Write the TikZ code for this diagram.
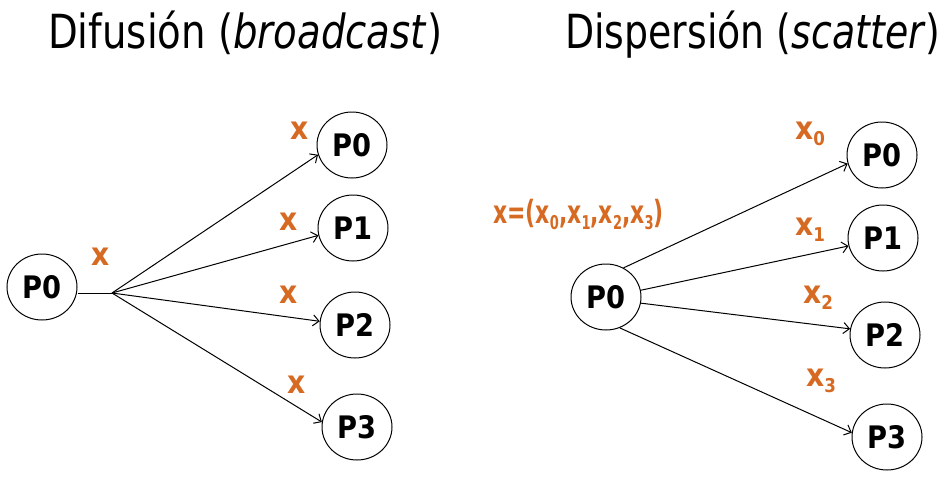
\documentclass[tikz,border=0pt]{standalone}
\usepackage{fontspec}
\setmainfont{DejaVu Sans}[FakeStretch=0.88]
\usetikzlibrary{shapes.geometric,arrows.meta}
\definecolor{xorange}{RGB}{214,106,34}
\newcommand{\xsub}[1]{x\raisebox{-6pt}{\fontsize{19}{19}\selectfont #1}}
\tikzset{
  proc/.style={draw, line width=1pt, ellipse, minimum width=70pt, minimum height=66pt, inner sep=0pt,
    font=\fontsize{31}{31}\selectfont\bfseries},
  lbl/.style={text=xorange, inner sep=0pt, font=\fontsize{32}{32}\selectfont\bfseries},
  ttl/.style={inner sep=0pt, anchor=base west, font=\fontsize{47}{47}\selectfont},
  arr/.style={line width=1pt, -{Straight Barb[length=6pt,width=11pt]}},
  ln/.style={line width=1pt}
}
\begin{document}
\begin{tikzpicture}[x=1pt,y=-1pt]
\useasboundingbox (0,0) rectangle (947,477);
% titles
\node[ttl] (t1) at (48,48) {\scalebox{0.935}[1]{Difusión (\textit{broadcast})}};
\node[ttl] (t2) at (565,48) {\scalebox{0.915}[1]{Dispersión (\textit{scatter})}};
% left: broadcast
\node[proc] (s1) at (42,287) {P0};
\node[proc] (a0) at (352,145) {P0};
\node[proc] (a1) at (353,228) {P1};
\node[proc] (a2) at (355,325) {P2};
\node[proc] (a3) at (357,427) {P3};
\coordinate (br) at (112,293);
\draw[ln] (s1.east |- br) -- (br);
\draw[arr] (br) -- (a0.196);
\draw[arr] (br) -- (a1.192);
\draw[arr] (br) -- (a2.174);
\draw[arr] (br) -- (a3.172);
\node[lbl] (lx) at (101,257) {x};
\node[lbl] (lx0) at (300,131) {x};
\node[lbl] (lx1) at (289,222) {x};
\node[lbl] (lx2) at (289,295) {x};
\node[lbl] (lx3) at (297,385) {x};
% right: scatter
\node[proc] (s2) at (606,297) {P0};
\node[proc] (b0) at (882,155) {P0};
\node[proc] (b1) at (883,238) {P1};
\node[proc] (b2) at (885,335) {P2};
\node[proc] (b3) at (887,437) {P3};
\draw[arr] (s2.59) -- (b0.194);
\draw[arr] (s2.11) -- (b1.193);
\draw[arr] (s2.350) -- (b2.170);
\draw[arr] (s2.294) -- (b3.173);
\node[lbl, anchor=base west] (vec) at (493,223) {\scalebox{0.78}[1]{x=(\xsub{0},\xsub{1},\xsub{2},\xsub{3})}};
\node[lbl, anchor=base west] (rx0) at (795,139) {\xsub{0}};
\node[lbl, anchor=base west] (rx1) at (795,235) {\xsub{1}};
\node[lbl, anchor=base west] (rx2) at (803,303) {\xsub{2}};
\node[lbl, anchor=base west] (rx3) at (806,386) {\xsub{3}};
\end{tikzpicture}
\end{document}
